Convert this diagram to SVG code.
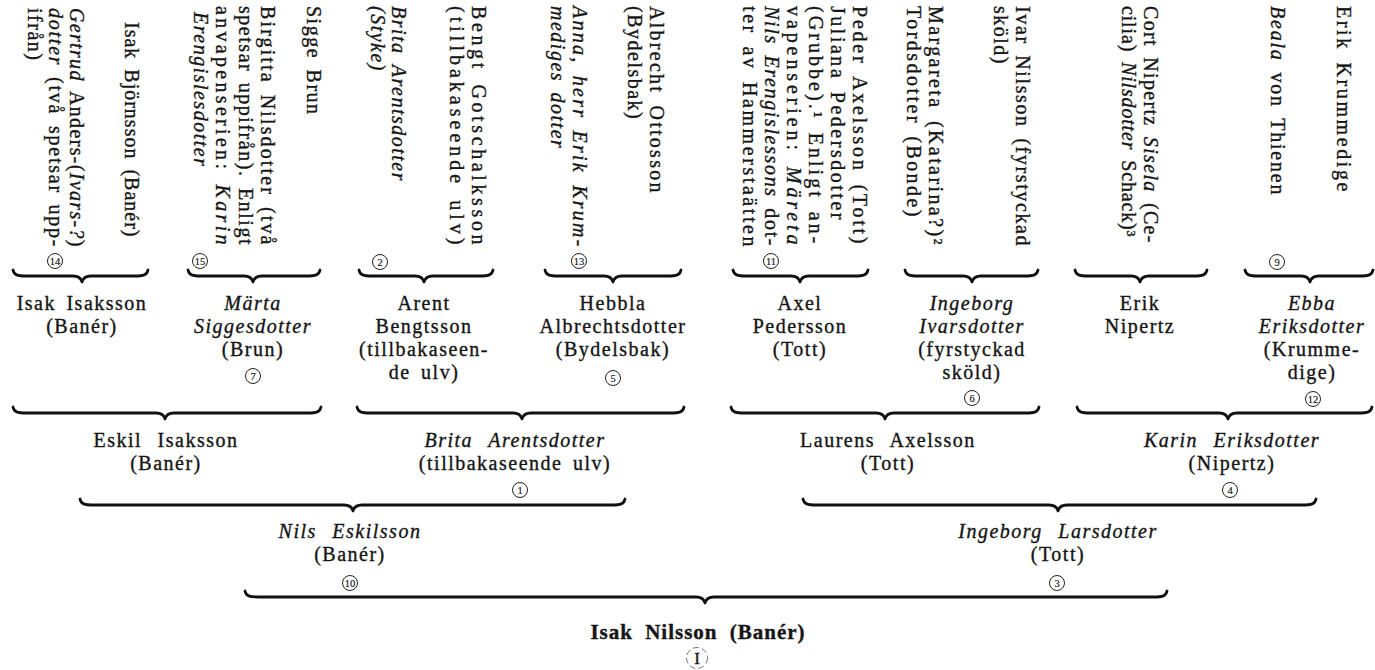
<svg xmlns="http://www.w3.org/2000/svg" width="1375" height="670" viewBox="0 0 1375 670">
<style>
.t{font-family:"Liberation Serif","Times New Roman",serif;fill:#151515;stroke:#151515;stroke-width:0.35;font-size:20px;letter-spacing:1.5px;word-spacing:4px}
.h{text-anchor:middle}
.w{word-spacing:9px}
.i{font-style:italic}
.b{font-weight:bold;letter-spacing:1px;word-spacing:6px;font-size:21px}
.brace{fill:none;stroke:#111;stroke-width:2.8;stroke-linejoin:round;stroke-linecap:round}
.nc{fill:none;stroke:#222;stroke-width:1}
.nt{font-family:"Liberation Serif","Times New Roman",serif;font-size:10.5px;text-anchor:middle;fill:#222;stroke:#222;stroke-width:0.2}
.big{fill:none;stroke:#666;stroke-width:0.9;stroke-dasharray:6 3}
</style>
<rect width="1375" height="670" fill="#fff"/>

<g id="connectors">
<path class="brace" d="M13,270 c1,5 4,6 14,6 H73 c5,0 8,2 9,6 c1,-4 4,-6 9,-6 H134 c10,0 13,-1 14,-6"/>
<path class="brace" d="M188,270 c1,5 4,6 14,6 H244 c5,0 8,2 9,6 c1,-4 4,-6 9,-6 H306 c10,0 13,-1 14,-6"/>
<path class="brace" d="M359,270 c1,5 4,6 14,6 H415 c5,0 8,2 9,6 c1,-4 4,-6 9,-6 H479 c10,0 13,-1 14,-6"/>
<path class="brace" d="M545,270 c1,5 4,6 14,6 H604 c5,0 8,2 9,6 c1,-4 4,-6 9,-6 H667 c10,0 13,-1 14,-6"/>
<path class="brace" d="M733,270 c1,5 4,6 14,6 H791 c5,0 8,2 9,6 c1,-4 4,-6 9,-6 H854 c10,0 13,-1 14,-6"/>
<path class="brace" d="M905,270 c1,5 4,6 14,6 H963 c5,0 8,2 9,6 c1,-4 4,-6 9,-6 H1024 c10,0 13,-1 14,-6"/>
<path class="brace" d="M1075,270 c1,5 4,6 14,6 H1131 c5,0 8,2 9,6 c1,-4 4,-6 9,-6 H1193 c10,0 13,-1 14,-6"/>
<path class="brace" d="M1245,270 c1,5 4,6 14,6 H1301 c5,0 8,2 9,6 c1,-4 4,-6 9,-6 H1359 c10,0 13,-1 14,-6"/>

<path class="brace" d="M13,407 c1,5 4,6 14,6 H156 c5,0 8,2 9,6 c1,-4 4,-6 9,-6 H307 c10,0 13,-1 14,-6"/>
<path class="brace" d="M357,407 c1,5 4,6 14,6 H513 c5,0 8,2 9,6 c1,-4 4,-6 9,-6 H670 c10,0 13,-1 14,-6"/>
<path class="brace" d="M731,407 c1,5 4,6 14,6 H876 c5,0 8,2 9,6 c1,-4 4,-6 9,-6 H1025 c10,0 13,-1 14,-6"/>
<path class="brace" d="M1077,407 c1,5 4,6 14,6 H1219 c5,0 8,2 9,6 c1,-4 4,-6 9,-6 H1358 c10,0 13,-1 14,-6"/>

<path class="brace" d="M80,499 c1,5 4,6 14,6 H344 c5,0 8,2 9,6 c1,-4 4,-6 9,-6 H611 c10,0 13,-1 14,-6"/>
<path class="brace" d="M803,499 c1,5 4,6 14,6 H1049 c5,0 8,2 9,6 c1,-4 4,-6 9,-6 H1302 c10,0 13,-1 14,-6"/>

<path class="brace" d="M245,591 c1,5 4,6 14,6 H696 c5,0 8,2 9,6 c1,-4 4,-6 9,-6 H1153 c10,0 13,-1 14,-6"/>
</g>

<!-- Generation 5 (vertical) -->
<g id="isak-bjornsson">
<text class="t" transform="translate(125,22) rotate(90)" textLength="216" lengthAdjust="spacing">Isak Björnsson (Banér)</text>
</g>
<g id="gertrud">
<text class="t" transform="translate(70,8) rotate(90)" textLength="240" lengthAdjust="spacing"><tspan class="i">Gertrud</tspan> Anders-(<tspan class="i">Ivars-?</tspan>)</text>
<text class="t" transform="translate(49,8) rotate(90)" textLength="240" lengthAdjust="spacing"><tspan class="i">dotter</tspan> (två spetsar upp-</text>
<text class="t" transform="translate(28,8) rotate(90)">ifrån)</text>
<circle class="nc" cx="55" cy="261" r="7.5"/><text class="nt" x="55" y="264.7">14</text>
</g>
<g id="sigge-brun">
<text class="t" transform="translate(307,6) rotate(90)">Sigge Brun</text>
</g>
<g id="birgitta">
<text class="t" transform="translate(261,6) rotate(90)" textLength="240" lengthAdjust="spacing">Birgitta Nilsdotter (två</text>
<text class="t" transform="translate(239,6) rotate(90)" textLength="240" lengthAdjust="spacing">spetsar uppifrån). Enligt</text>
<text class="t" transform="translate(216,6) rotate(90)" textLength="240" lengthAdjust="spacing">anvapenserien: <tspan class="i">Karin</tspan></text>
<text class="t i" transform="translate(194,12) rotate(90)">Erengislesdotter</text>
<circle class="nc" cx="200" cy="261" r="7.5"/><text class="nt" x="200" y="264.7">15</text>
</g>
<g id="bengt">
<text class="t" transform="translate(472,6) rotate(90)" textLength="240" lengthAdjust="spacing">Bengt Gotschalksson</text>
<text class="t" transform="translate(450,6) rotate(90)" textLength="240" lengthAdjust="spacing">(tillbakaseende ulv)</text>
</g>
<g id="brita-styke">
<text class="t i" transform="translate(392,6) rotate(90)">Brita Arentsdotter</text>
<text class="t i" transform="translate(371,6) rotate(90)">(Styke)</text>
<circle class="nc" cx="380" cy="262" r="7.5"/><text class="nt" x="380" y="265.7">2</text>
</g>
<g id="albrecht">
<text class="t" transform="translate(650,6) rotate(90)" textLength="188" lengthAdjust="spacing">Albrecht Ottosson</text>
<text class="t" transform="translate(628,6) rotate(90)">(Bydelsbak)</text>
</g>
<g id="anna">
<text class="t i" transform="translate(573,6) rotate(90)" textLength="242" lengthAdjust="spacing">Anna, herr Erik Krum-</text>
<text class="t i" transform="translate(551,6) rotate(90)">mediges dotter</text>
<circle class="nc" cx="579" cy="261" r="7.5"/><text class="nt" x="579" y="264.7">13</text>
</g>
<g id="peder-juliana">
<text class="t" transform="translate(853,6) rotate(90)" textLength="239" lengthAdjust="spacing">Peder Axelsson (Tott)</text>
<text class="t" transform="translate(831,6) rotate(90)" textLength="215" lengthAdjust="spacing">Juliana Pedersdotter</text>
<text class="t" transform="translate(809,6) rotate(90)" textLength="239" lengthAdjust="spacing">(Grubbe).¹ Enligt an-</text>
<text class="t" transform="translate(787,6) rotate(90)" textLength="240" lengthAdjust="spacing">vapenserien: <tspan class="i">Märeta</tspan></text>
<text class="t" transform="translate(765,6) rotate(90)" textLength="241" lengthAdjust="spacing"><tspan class="i">Nils Erengislessons</tspan> dot-</text>
<text class="t" transform="translate(743,6) rotate(90)" textLength="242" lengthAdjust="spacing">ter av Hammerstaätten</text>
<circle class="nc" cx="771" cy="261" r="7.5"/><text class="nt" x="771" y="264.7">11</text>
</g>
<g id="ivar">
<text class="t" transform="translate(1016,6) rotate(90)" textLength="241" lengthAdjust="spacing">Ivar Nilsson (fyrstyckad</text>
<text class="t" transform="translate(994,6) rotate(90)">sköld)</text>
</g>
<g id="margareta">
<text class="t" transform="translate(929,6) rotate(90)" textLength="240" lengthAdjust="spacing">Margareta (Katarina?)²</text>
<text class="t" transform="translate(907,6) rotate(90)" textLength="212" lengthAdjust="spacing">Tordsdotter (Bonde)</text>
</g>
<g id="cort-sisela">
<text class="t" transform="translate(1144,6) rotate(90)" textLength="238" lengthAdjust="spacing">Cort Nipertz <tspan class="i">Sisela</tspan> (Ce-</text>
<text class="t" transform="translate(1122,6) rotate(90)" textLength="232" lengthAdjust="spacing">cilia) <tspan class="i">Nilsdotter</tspan> Schack)³</text>
</g>
<g id="erik-krummedige">
<text class="t" transform="translate(1337,6) rotate(90)" textLength="187" lengthAdjust="spacing">Erik Krummedige</text>
</g>
<g id="beala">
<text class="t" transform="translate(1271,6) rotate(90)" textLength="190" lengthAdjust="spacing"><tspan class="i">Beala</tspan> von Thienen</text>
<circle class="nc" cx="1277" cy="262" r="7.5"/><text class="nt" x="1277" y="265.7">9</text>
</g>

<!-- Generation 4 -->
<g id="isak-isaksson">
<text class="t h" x="82" y="310">Isak Isaksson</text>
<text class="t h" x="82" y="333">(Banér)</text>
</g>
<g id="marta">
<text class="t h i" x="253" y="310">Märta</text>
<text class="t h i" x="253" y="333">Siggesdotter</text>
<text class="t h" x="253" y="356">(Brun)</text>
<circle class="nc" cx="253" cy="376" r="7.5"/><text class="nt" x="253" y="379.7">7</text>
</g>
<g id="arent">
<text class="t h" x="424" y="310">Arent</text>
<text class="t h" x="424" y="333">Bengtsson</text>
<text class="t h" x="424" y="356">(tillbakaseen-</text>
<text class="t h" x="424" y="379">de ulv)</text>
</g>
<g id="hebbla">
<text class="t h" x="613" y="310">Hebbla</text>
<text class="t h" x="613" y="333">Albrechtsdotter</text>
<text class="t h" x="613" y="356">(Bydelsbak)</text>
<circle class="nc" cx="613" cy="378" r="7.5"/><text class="nt" x="613" y="381.7">5</text>
</g>
<g id="axel">
<text class="t h" x="800" y="310">Axel</text>
<text class="t h" x="800" y="333">Pedersson</text>
<text class="t h" x="800" y="356">(Tott)</text>
</g>
<g id="ingeborg-i">
<text class="t h i" x="972" y="310">Ingeborg</text>
<text class="t h i" x="972" y="333">Ivarsdotter</text>
<text class="t h" x="972" y="356">(fyrstyckad</text>
<text class="t h" x="972" y="379">sköld)</text>
<circle class="nc" cx="972" cy="398" r="7.5"/><text class="nt" x="972" y="401.7">6</text>
</g>
<g id="erik-nipertz">
<text class="t h" x="1140" y="310">Erik</text>
<text class="t h" x="1140" y="333">Nipertz</text>
</g>
<g id="ebba">
<text class="t h i" x="1312" y="310">Ebba</text>
<text class="t h i" x="1312" y="333">Eriksdotter</text>
<text class="t h" x="1312" y="356">(Krumme-</text>
<text class="t h" x="1312" y="379">dige)</text>
<circle class="nc" cx="1313" cy="399" r="7.5"/><text class="nt" x="1313" y="402.7">12</text>
</g>

<!-- Generation 3 -->
<g id="eskil">
<text class="t h w" x="166" y="447">Eskil Isaksson</text>
<text class="t h" x="166" y="470">(Banér)</text>
</g>
<g id="brita-a">
<text class="t h i w" x="515" y="447">Brita Arentsdotter</text>
<text class="t h" x="515" y="470">(tillbakaseende ulv)</text>
<circle class="nc" cx="520" cy="490" r="7.5"/><text class="nt" x="520" y="493.7">1</text>
</g>
<g id="laurens">
<text class="t h w" x="888" y="447">Laurens Axelsson</text>
<text class="t h" x="888" y="470">(Tott)</text>
</g>
<g id="karin">
<text class="t h i w" x="1232" y="447">Karin Eriksdotter</text>
<text class="t h" x="1232" y="470">(Nipertz)</text>
<circle class="nc" cx="1230" cy="490" r="7.5"/><text class="nt" x="1230" y="493.7">4</text>
</g>

<!-- Generation 2 -->
<g id="nils">
<text class="t h i w" x="350" y="538">Nils Eskilsson</text>
<text class="t h" x="350" y="561">(Banér)</text>
<circle class="nc" cx="350" cy="583" r="7.5"/><text class="nt" x="350" y="586.7">10</text>
</g>
<g id="ingeborg-l">
<text class="t h i w" x="1058" y="538">Ingeborg Larsdotter</text>
<text class="t h" x="1058" y="561">(Tott)</text>
<circle class="nc" cx="1057" cy="583" r="7.5"/><text class="nt" x="1057" y="586.7">3</text>
</g>

<!-- Generation 1 -->
<g id="isak-nilsson">
<text class="t h b" x="698" y="639">Isak Nilsson (Banér)</text>
<circle class="big" cx="697" cy="658" r="10.5"/>
<text class="t h" x="697" y="664" style="font-size:17px;letter-spacing:0">I</text>
</g>
</svg>
